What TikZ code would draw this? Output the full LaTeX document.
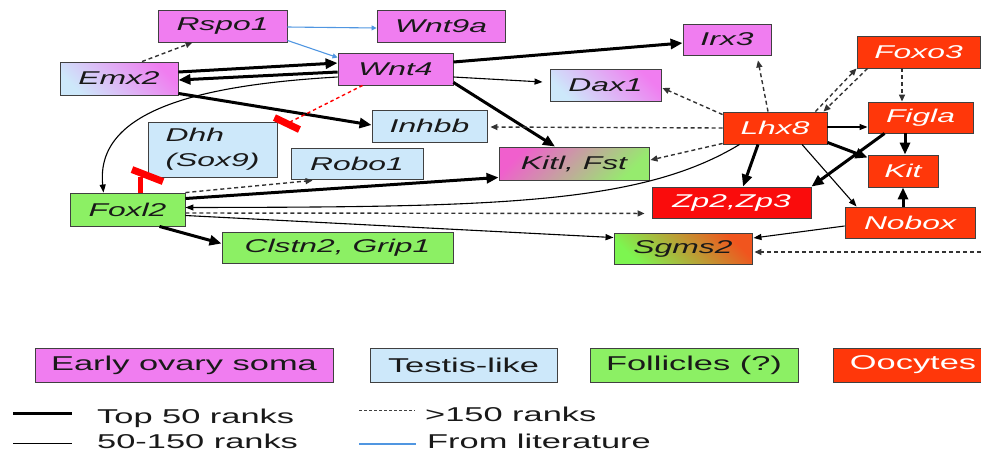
\documentclass[tikz,border=0pt]{standalone}
\usepackage{fontspec}
\setmainfont{Liberation Sans}[FakeStretch=1.72]
\usetikzlibrary{arrows.meta,calc}
\definecolor{pinkN}{RGB}{240,125,240}
\definecolor{blueN}{RGB}{205,232,250}
\definecolor{greenN}{RGB}{140,240,100}
\definecolor{redN}{RGB}{255,55,10}
\definecolor{zpRed}{RGB}{250,12,12}
\definecolor{kitPink}{RGB}{240,95,205}
\definecolor{kitGreen}{RGB}{150,235,110}
\definecolor{sgGreen}{RGB}{125,245,80}
\definecolor{sgOrange}{RGB}{240,85,30}
\definecolor{litblue}{RGB}{80,150,225}
\tikzset{
  box/.style={draw=black!75, line width=0.9pt, inner sep=0pt,
    font=\fontsize{18.5}{25}\selectfont\itshape, text=black!90},
  soma/.style={box, fill=pinkN},
  testis/.style={box, fill=blueN},
  foll/.style={box, fill=greenN},
  oocyte/.style={box, fill=redN, text=white},
  legbox/.style={draw=black!75, line width=0.9pt, inner sep=0pt,
    font=\fontsize{20}{24}\selectfont, text=black!90, minimum height=34pt},
  legtxt/.style={inner sep=0pt, font=\fontsize{20}{22}\selectfont, text=black!90},
  top50/.style={draw=black, line width=3pt, -{Triangle[length=12pt,width=10pt]}},
  r50/.style={draw=black, line width=1.1pt, -{Triangle[length=8pt,width=6pt]}},
  r150/.style={draw=black!80, line width=1.4pt, dash pattern=on 4pt off 3pt,
    -{Triangle[length=7pt,width=6pt]}},
  lit/.style={draw=litblue, line width=1.1pt, -{Triangle[length=5pt,width=5pt]}},
  inhib/.style={draw=red, line width=1.4pt, dash pattern=on 3.5pt off 3pt},
  redbar/.style={draw=red, line width=7pt},
}
\begin{document}
\begin{tikzpicture}[x=1pt,y=-1pt]
\useasboundingbox (0,0) rectangle (981,451);
\clip (0,0) rectangle (981,451);
% gene nodes
\node[soma, minimum width=129pt, minimum height=32pt] (Rspo1) at (222.5,26) {Rspo1};
\node[soma, minimum width=128pt, minimum height=32pt] (Wnt9a) at (441,26) {Wnt9a};
\node[box, top color=pinkN, bottom color=blueN, shading angle=-45, minimum width=118pt, minimum height=33pt] (Emx2) at (119,78.5) {Emx2};
\node[soma, minimum width=115pt, minimum height=32pt] (Wnt4) at (395.5,69) {Wnt4};
\node[soma, minimum width=88pt, minimum height=31pt] (Irx3) at (727,39.5) {Irx3};
\node[oocyte, minimum width=123pt, minimum height=32pt] (Foxo3) at (918.5,52) {Foxo3};
\node[box, top color=pinkN, bottom color=blueN, shading angle=-45, minimum width=111pt, minimum height=32pt] (Dax1) at (605.5,85) {Dax1};
\node[oocyte, minimum width=104pt, minimum height=32pt] (Lhx8) at (775,128) {Lhx8};
\node[oocyte, minimum width=105pt, minimum height=31pt] (Figla) at (920.5,117.5) {Figla};
\node[testis, minimum width=115pt, minimum height=32pt] (Inhbb) at (429.5,126) {Inhbb};
\node[testis, minimum width=129pt, minimum height=55pt, align=left] (Dhh) at (212.5,149.5) {Dhh\\(Sox9)};
\node[testis, minimum width=132pt, minimum height=31pt] (Robo1) at (357,163.5) {Robo1};
\node[box, top color=kitPink, bottom color=kitGreen, shading angle=45, minimum width=150pt, minimum height=33pt] (Kitl) at (574,163.5) {Kitl, Fst};
\node[oocyte, minimum width=70pt, minimum height=32pt] (Kit) at (903,171) {Kit};
\node[foll, minimum width=115pt, minimum height=33pt] (Foxl2) at (127.5,209.5) {Foxl2};
\node[box, fill=zpRed, text=white, minimum width=159pt, minimum height=31pt] (Zp2) at (731.5,202.5) {Zp2,Zp3};
\node[oocyte, minimum width=130pt, minimum height=31pt] (Nobox) at (910,222.5) {Nobox};
\node[foll, minimum width=231pt, minimum height=31pt] (Clstn2) at (337.5,247.5) {Clstn2, Grip1};
\node[box, top color=sgOrange, bottom color=sgGreen, shading angle=-45, minimum width=138pt, minimum height=31pt] (Sgms2) at (683,248.5) {Sgms2};
% legend boxes
\node[legbox, fill=pinkN, minimum width=298pt] (LSoma) at (184,365) {Early ovary soma};
\node[legbox, fill=blueN, minimum width=187pt] (LTestis) at (463.5,365) {Testis-like};
\node[legbox, fill=greenN, minimum width=208pt] (LFoll) at (694,365) {Follicles (?)};
\node[legbox, fill=redN, text=white, minimum width=160pt] (LOoc) at (913,365) {Oocytes};
% legend lines
\coordinate (lA1) at (13,413); \coordinate (lA2) at (72,413);
\coordinate (lB1) at (13,443); \coordinate (lB2) at (72,443);
\coordinate (lC1) at (359,410); \coordinate (lC2) at (415,410);
\coordinate (lD1) at (359,444); \coordinate (lD2) at (416,444);
\draw[line width=3pt] (lA1) -- (lA2);
\draw[line width=0.9pt] (lB1) -- (lB2);
\draw[line width=1pt, draw=black!75, dash pattern=on 3pt off 2pt] (lC1) -- (lC2);
\draw[line width=1.1pt, draw=litblue] (lD1) -- (lD2);
\node[legtxt, anchor=base west] (tA) at (97,423) {Top 50 ranks};
\node[legtxt, anchor=base west] (tB) at (97,448) {50-150 ranks};
\node[legtxt, anchor=base west] (tC) at (425,421) {>150 ranks};
\node[legtxt, anchor=base west] (tD) at (427,448) {From literature};
% edges: literature
\draw[lit] ($(Rspo1.east)+(0,1)$) -- ($(Wnt9a.west)+(0,2)$);
\draw[lit] ($(Rspo1.south east)+(0,-2)$) -- ($(Wnt4.north west)+(0,5)$);
% Emx2 / Wnt4
\draw[r150] ($(Emx2.north)+(23,0)$) -- ($(Rspo1.south)+(-30,0)$);
\draw[top50] ($(Emx2.east)+(0,-6.5)$) -- ($(Wnt4.west)+(0,-6)$);
\draw[top50] ($(Wnt4.west)+(0,3)$) -- ($(Emx2.east)+(0,1.5)$);
\draw[top50] ($(Emx2.south east)+(0,-2)$) -- ($(Inhbb.west)+(0,-1)$);
\draw[top50] ($(Wnt4.east)+(0,-7)$) -- ($(Irx3.west)+(0,3.5)$);
\draw[r50] ($(Wnt4.east)+(0,8)$) -- ($(Dax1.west)+(-7,-3)$);
\draw[top50] ($(Wnt4.south east)+(0,-3)$) -- ($(Kitl.north)+(-19,0)$);
\draw[r50] ($(Wnt4.west)+(0,8)$) .. controls (200,85) and (95,110) .. ($(Foxl2.north)+(-24,0)$);
% inhibitions of Dhh
\coordinate (barA) at ($(Dhh.north east)+(9.5,2)$);
\draw[inhib] ($(Wnt4.south west)+(25,0)$) -- (barA);
\draw[redbar] ($(barA)+(-12.5,-6)$) -- ($(barA)+(12.5,6)$);
\coordinate (barB) at ($(Foxl2.north)+(20,-17)$);
\draw[draw=red, line width=4.5pt] ($(Foxl2.north)+(13,0)$) -- ($(Foxl2.north)+(13,-16)$);
\draw[redbar] ($(barB)+(-15.5,-6)$) -- ($(barB)+(15.5,6)$);
% Foxl2 edges
\draw[r150] (Foxl2.north east) -- ($(Robo1.south west)+(22,1)$);
\draw[top50] ($(Foxl2.east)+(0,-11)$) -- ($(Kitl.south west)+(0,-3)$);
\draw[r50] ($(Lhx8.south west)+(17,0)$) .. controls (640,205) and (492,207) .. ($(Foxl2.east)+(0,-2)$);
\draw[r150] ($(Foxl2.east)+(0,3.5)$) -- ($(Zp2.south west)+(-7,-5)$);
\draw[r50] ($(Foxl2.east)+(0,6)$) -- ($(Sgms2.north west)+(0,5)$);
\draw[top50] ($(Foxl2.south)+(32,0)$) -- ($(Clstn2.west)+(0,-4)$);
% Lhx8 edges
\draw[r150] ($(Lhx8.north)+(-7,0)$) -- ($(Irx3.south)+(31,5)$);
\draw[r150] ($(Lhx8.north west)+(0,3)$) -- ($(Dax1.east)+(1,3)$);
\draw[r150] (Lhx8.west) -- ($(Inhbb.east)+(3,1)$);
\draw[r150] ($(Lhx8.south west)+(0,-1)$) -- ($(Kitl.east)+(1,-3.5)$);
\draw[top50] ($(Lhx8.south)+(-17,0)$) -- ($(Zp2.north)+(11.5,0)$);
\draw[top50] ($(Lhx8.south east)+(0,-2)$) -- ($(Kit.north west)+(0,3)$);
\draw[r50] ($(Lhx8.south)+(27,0)$) -- ($(Nobox.north west)+(12,0)$);
\draw[r50] ($(Lhx8.east)+(0,-1)$) -- ($(Figla.west)+(0,9.5)$);
\draw[r150] ($(Lhx8.north east)+(-12,0)$) -- (Foxo3.south west);
\draw[r150] ($(Foxo3.south west)+(11,0)$) -- ($(Lhx8.north east)+(-4,0)$);
% oocyte edges
\draw[r150] ($(Foxo3.south)+(-16.5,0)$) -- ($(Figla.north)+(-18.5,0)$);
\draw[top50] ($(Figla.south)+(-15.5,0)$) -- ($(Kit.north)+(2,0)$);
\draw[top50] ($(Figla.south west)+(17,0)$) -- (Zp2.north east);
\draw[top50] ($(Nobox.north)+(-7,0)$) -- (Kit.south);
\draw[r50] ($(Nobox.west)+(0,3.5)$) -- ($(Sgms2.east)+(1,-10.5)$);
\coordinate (rightedge) at (981,252);
\draw[r150] (rightedge) -- ($(Sgms2.east)+(2,3.5)$);
\end{tikzpicture}
\end{document}
